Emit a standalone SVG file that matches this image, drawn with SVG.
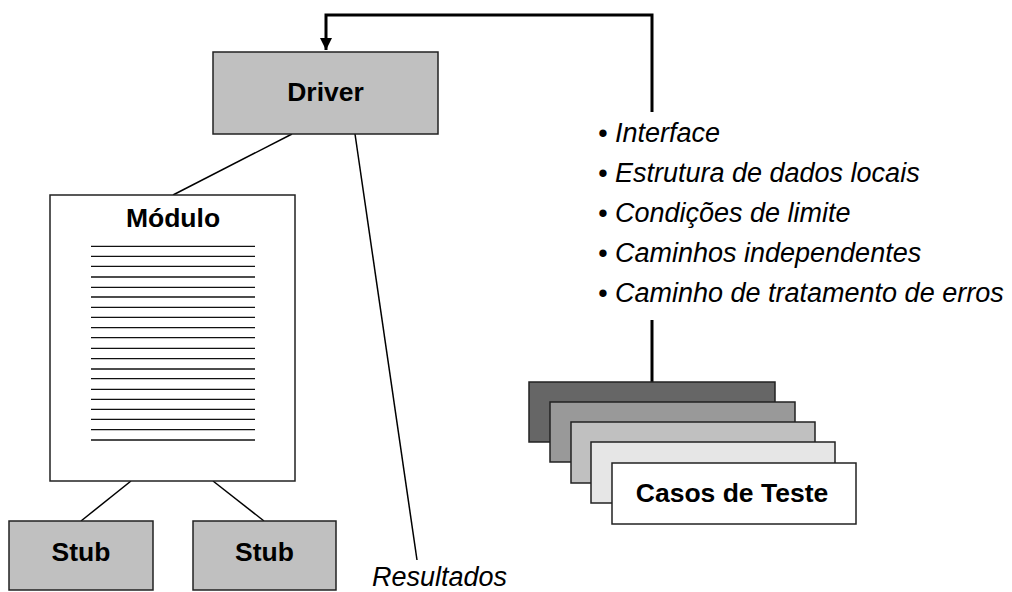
<svg xmlns="http://www.w3.org/2000/svg" width="1012" height="592" viewBox="0 0 1012 592">
<style>
.box{stroke:#222;stroke-width:1.5}
.conn{stroke:#000;stroke-width:1.5;fill:none}
.thick{stroke:#000;stroke-width:3;fill:none}
.lbl{font-family:"Liberation Sans",Arial,sans-serif;font-weight:bold;font-size:26.5px;fill:#000}
.it{font-family:"Liberation Sans",Arial,sans-serif;font-style:italic;font-size:27px;fill:#000}
.rule{stroke:#111;stroke-width:1.3}
</style>
<defs>
<marker id="ah" viewBox="0 0 10 10" refX="10" refY="5" markerWidth="4" markerHeight="4" orient="auto" markerUnits="strokeWidth">
<path d="M0,0 L10,5 L0,10 z" fill="#000"/>
</marker>
</defs>
<rect width="1012" height="592" fill="#fff"/>
<g id="connectors">
<polyline class="thick" points="652,112 652,15 326,15 326,50" marker-end="url(#ah)"/>
<line class="thick" x1="652" y1="320" x2="652" y2="382"/>
<line class="conn" x1="292" y1="134" x2="173" y2="195"/>
<line class="conn" x1="355" y1="134" x2="417" y2="560"/>
<line class="conn" x1="131" y1="481" x2="81" y2="521"/>
<line class="conn" x1="213" y1="481" x2="264" y2="521"/>
</g>
<g id="driver">
<rect class="box" x="213" y="52" width="225" height="82" fill="#c0c0c0"/>
<text class="lbl" x="325.5" y="101" text-anchor="middle">Driver</text>
</g>
<g id="modulo">
<rect class="box" x="50" y="195" width="245" height="286" fill="#fff"/>
<text class="lbl" x="173" y="227" text-anchor="middle">Módulo</text>
<g class="rule">
<line x1="91" x2="255" y1="246.3" y2="246.3"/>
<line x1="91" x2="255" y1="256.3" y2="256.3"/>
<line x1="91" x2="255" y1="266.3" y2="266.3"/>
<line x1="91" x2="255" y1="277" y2="277"/>
<line x1="91" x2="255" y1="287.3" y2="287.3"/>
<line x1="91" x2="255" y1="297" y2="297"/>
<line x1="91" x2="255" y1="307.3" y2="307.3"/>
<line x1="91" x2="255" y1="317.3" y2="317.3"/>
<line x1="91" x2="255" y1="327.7" y2="327.7"/>
<line x1="91" x2="255" y1="337.7" y2="337.7"/>
<line x1="91" x2="255" y1="348.3" y2="348.3"/>
<line x1="91" x2="255" y1="358.7" y2="358.7"/>
<line x1="91" x2="255" y1="369" y2="369"/>
<line x1="91" x2="255" y1="378.7" y2="378.7"/>
<line x1="91" x2="255" y1="389.3" y2="389.3"/>
<line x1="91" x2="255" y1="399.3" y2="399.3"/>
<line x1="91" x2="255" y1="409.3" y2="409.3"/>
<line x1="91" x2="255" y1="419.3" y2="419.3"/>
<line x1="91" x2="255" y1="429.7" y2="429.7"/>
<line x1="91" x2="255" y1="440" y2="440"/>
</g>
</g>
<g id="stub1">
<rect class="box" x="9" y="521" width="144" height="69" fill="#c0c0c0"/>
<text class="lbl" x="81" y="561" text-anchor="middle">Stub</text>
</g>
<g id="stub2">
<rect class="box" x="193" y="521" width="143" height="69" fill="#c0c0c0"/>
<text class="lbl" x="264.5" y="561" text-anchor="middle">Stub</text>
</g>
<g id="resultados">
<text class="it" x="372" y="586">Resultados</text>
</g>
<g id="lista">
<text class="it" x="598" y="142">• Interface</text>
<text class="it" x="598" y="182">• Estrutura de dados locais</text>
<text class="it" x="598" y="222">• Condições de limite</text>
<text class="it" x="598" y="262">• Caminhos independentes</text>
<text class="it" x="598" y="302">• Caminho de tratamento de erros</text>
</g>
<g id="casos">
<rect class="box" x="529" y="382" width="246" height="60" fill="#666"/>
<rect class="box" x="550" y="402" width="245" height="60" fill="#999"/>
<rect class="box" x="571" y="422" width="244" height="61" fill="#c0c0c0"/>
<rect class="box" x="591" y="442" width="244" height="61" fill="#e6e6e6"/>
<rect class="box" x="612" y="463" width="244" height="61" fill="#fff"/>
<text class="lbl" x="732" y="502" text-anchor="middle">Casos de Teste</text>
</g>
</svg>
